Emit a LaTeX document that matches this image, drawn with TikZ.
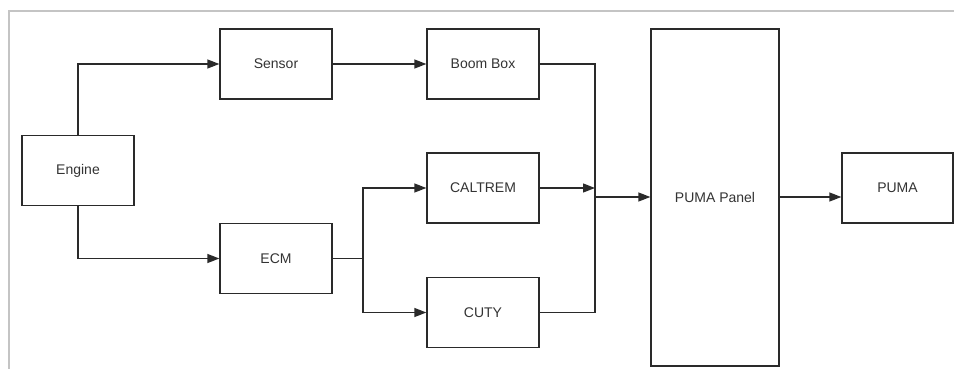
\documentclass[tikz,border=0pt]{standalone}
\usepackage{fontspec}
\setmainfont{Liberation Sans}
\usetikzlibrary{arrows.meta}
\definecolor{ln}{HTML}{2A2A2A}
\definecolor{tx}{HTML}{333333}
\definecolor{frame}{HTML}{C4C4C4}
\begin{document}
\begin{tikzpicture}[x=1pt,y=-1pt,
  blk/.style={draw=ln,line width=1.3pt,fill=white,minimum width=112pt,minimum height=70pt,inner sep=0pt,text=tx,font=\fontsize{14}{16}\selectfont},
  conn/.style={draw=ln,line width=1.3pt},
  arr/.style={conn,-{Triangle[length=12pt,width=9pt]}}]
\useasboundingbox (0,0) rectangle (954,369);
\draw[frame,line width=1.6pt] (9,369) -- (9,11) -- (954,11);
\node[blk] (eng) at (78,170.5) {Engine};
\node[blk] (sen) at (276,64) {Sensor};
\node[blk] (ecm) at (276,258.5) {ECM};
\node[blk] (boom) at (483,64) {Boom Box};
\node[blk] (cal) at (483,188) {CALTREM};
\node[blk] (cuty) at (483,312.5) {CUTY};
\node[blk,minimum width=128pt,minimum height=337pt] (panel) at (715,197.5) {PUMA Panel};
\node[blk,minimum width=111pt] (puma) at (897.5,188) {PUMA};
\coordinate (split) at (363,258.5);
\coordinate (join) at (595,197);
\draw[arr] (eng.north) |- (sen.west);
\draw[arr] (eng.south) |- (ecm.west);
\draw[arr] (sen.east) -- (boom.west);
\draw[conn] (ecm.east) -- (split);
\draw[arr] (split) |- (cal.west);
\draw[arr] (split) |- (cuty.west);
\draw[conn] (boom.east) -| (join) |- (cuty.east);
\draw[arr] (cal.east) -- (cal.east -| join);
\draw[arr] (join) -- (panel.west |- join);
\draw[arr] (panel.east |- join) -- (puma.west |- join);
\end{tikzpicture}
\end{document}
